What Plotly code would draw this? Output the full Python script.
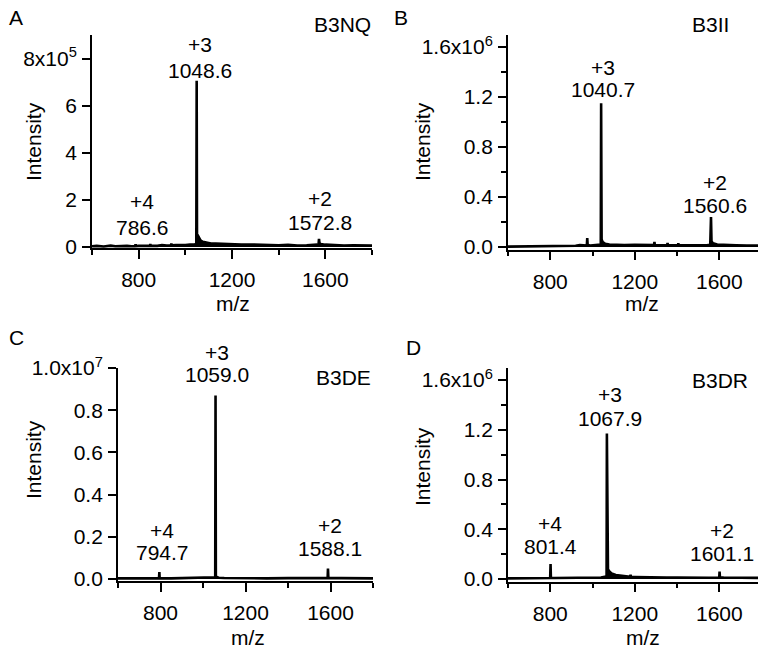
import plotly.graph_objects as go

W, H = 758, 650
FONT = "Liberation Sans, Arial, sans-serif"
FS = 21

# ---------------- data ----------------
# Panel A: B3NQ
mz_A = [600, 620, 650, 680, 700, 720, 750, 770, 785, 786.6, 788, 800, 820, 848, 850, 852, 880, 900,
        920, 938, 940, 942, 960, 980, 1000, 1020, 1040, 1047, 1048.6, 1050, 1053, 1058, 1065, 1075,
        1090, 1110, 1130, 1160, 1200, 1240, 1280, 1320, 1360, 1400, 1440, 1480, 1520, 1550, 1565,
        1571, 1572.8, 1575, 1580, 1600, 1640, 1680, 1720, 1760, 1800]
int_A = [3e3, 5e3, 2e3, 6e3, 3e3, 4e3, 5e3, 3e3, 4e3, 1.2e4, 4e3, 5e3, 4e3, 5e3, 1.3e4, 5e3, 5e3, 8e3,
         6e3, 7e3, 1.4e4, 7e3, 8e3, 7e3, 8e3, 1.0e4, 1.0e4, 1.5e4, 7.06e5, 5.5e4, 5.0e4, 4.0e4, 2.8e4, 2.2e4,
         1.8e4, 1.5e4, 1.5e4, 1.3e4, 1.2e4, 1.0e4, 1.1e4, 9e3, 8e3, 7e3, 9e3, 6e3, 7e3, 8e3, 1.0e4,
         1.2e4, 3.5e4, 1.6e4, 1.3e4, 1.0e4, 7e3, 6e3, 7e3, 5e3, 6e3]

# Panel B: B3II
mz_B = [600, 650, 700, 750, 800, 850, 900, 920, 940, 960, 973, 975, 977, 990, 1010, 1035, 1039,
        1040.7, 1043, 1048, 1060, 1080, 1110, 1150, 1200, 1250, 1291, 1293, 1295, 1320, 1353, 1355,
        1357, 1380, 1404, 1406, 1408, 1430, 1470, 1510, 1540, 1557, 1560.6, 1563, 1570, 1590, 1620,
        1680, 1730, 1783]
int_B = [3e3, 4e3, 3e3, 5e3, 4e3, 5e3, 1.2e4, 1.0e4, 1.5e4, 1.0e4, 1.2e4, 7.2e4, 1.5e4, 1.2e4, 1.5e4, 1.6e4, 2.0e4,
         1.15e6, 6.0e4, 4.0e4, 2.5e4, 2.0e4, 1.6e4, 1.5e4, 1.7e4, 1.5e4, 1.5e4, 4.0e4, 1.5e4, 1.4e4, 1.4e4, 3.2e4,
         1.4e4, 1.3e4, 1.3e4, 3.0e4, 1.3e4, 1.4e4, 1.3e4, 1.5e4, 1.4e4, 1.8e4, 2.4e5, 4.5e4, 3.0e4, 2.0e4, 1.6e4,
         1.4e4, 1.2e4, 1.2e4]

# Panel C: B3DE
mz_C = [600, 650, 700, 750, 793, 794.7, 796, 850, 900, 950, 1000, 1040, 1056, 1057.5, 1059.0, 1060.5,
        1064, 1075, 1100, 1150, 1200, 1300, 1400, 1500, 1560, 1586.5, 1588.1, 1590, 1650, 1700, 1750, 1800]
int_C = [3e4, 4e4, 3e4, 4e4, 4e4, 3.3e5, 4e4, 3e4, 4e4, 3e4, 4e4, 5e4, 8e4, 1.2e5, 8.7e6, 1.6e5,
         9e4, 6e4, 5e4, 4e4, 4e4, 3e4, 4e4, 3e4, 4e4, 4e4, 5.0e5, 4e4, 4e4, 3e4, 4e4, 3e4]

# Panel D: B3DR
mz_D = [600, 650, 700, 750, 780, 799.5, 801.4, 803, 820, 850, 900, 950, 1000, 1040, 1064, 1066.5,
        1067.9, 1069.5, 1073, 1080, 1090, 1110, 1140, 1165, 1178, 1180, 1182, 1200, 1250, 1300, 1350,
        1400, 1450, 1500, 1550, 1599.5, 1601.1, 1603, 1620, 1660, 1700, 1740, 1783]
int_D = [5e3, 6e3, 5e3, 7e3, 8e3, 8e3, 1.2e5, 9e3, 8e3, 9e3, 1.0e4, 1.2e4, 1.0e4, 1.2e4, 2.0e4, 3.0e4,
         1.17e6, 9.5e4, 8.0e4, 6.0e4, 4.5e4, 3.2e4, 2.4e4, 2.0e4, 1.8e4, 3.5e4, 1.7e4, 1.6e4, 1.3e4, 1.2e4, 1.1e4,
         1.2e4, 1.0e4, 1.1e4, 1.0e4, 1.2e4, 6.0e4, 1.4e4, 1.2e4, 1.0e4, 9e3, 1.0e4, 9e3]

names = ["B3NQ", "B3II", "B3DE", "B3DR"]
panel_letters = ["A", "B", "C", "D"]

ytick_vals_A = [0, 2e5, 4e5, 6e5, 8e5]
ytick_text_A = ["0", "2", "4", "6", "8x10<sup>5</sup>"]
ytick_vals_B = [0, 0.4e6, 0.8e6, 1.2e6, 1.6e6]
ytick_text_B = ["0.0", "0.4", "0.8", "1.2", "1.6x10<sup>6</sup>"]
ytick_vals_C = [0, 0.2e7, 0.4e7, 0.6e7, 0.8e7, 1.0e7]
ytick_text_C = ["0.0", "0.2", "0.4", "0.6", "0.8", "1.0x10<sup>7</sup>"]
ytick_vals_D = ytick_vals_B
ytick_text_D = ytick_text_B
xtick_vals = [800, 1200, 1600]
xtick_text = ["800", "1200", "1600"]

peak_labels_A = [("+4", "786.6"), ("+3", "1048.6"), ("+2", "1572.8")]
peak_labels_B = [("+3", "1040.7"), ("+2", "1560.6")]
peak_labels_C = [("+4", "794.7"), ("+3", "1059.0"), ("+2", "1588.1")]
peak_labels_D = [("+4", "801.4"), ("+3", "1067.9"), ("+2", "1601.1")]

# ---------------- layout helpers ----------------
def P(x, y):
    return x / W, 1 - y / H

panels = [
    dict(mz=mz_A, it=int_A, xd=(92, 372), yd=(248.2, 35), xr=[600, 1800], yr=[-5e3, 9e5],
         yv=ytick_vals_A, yt=ytick_text_A, yminor=None),
    dict(mz=mz_B, it=int_B, xd=(508, 758), yd=(249.5, 34.5), xr=[600, 1783], yr=[-2e4, 1.7e6],
         yv=ytick_vals_B, yt=ytick_text_B, yminor=0.2e6),
    dict(mz=mz_C, it=int_C, xd=(118, 373), yd=(581.1, 368), xr=[600, 1800], yr=[-1e5, 1.0e7],
         yv=ytick_vals_C, yt=ytick_text_C, yminor=None),
    dict(mz=mz_D, it=int_D, xd=(508, 758), yd=(581.5, 367.6), xr=[600, 1783], yr=[-2e4, 1.7e6],
         yv=ytick_vals_D, yt=ytick_text_D, yminor=0.2e6),
]

fig = go.Figure()
layout = dict(
    width=W, height=H, margin=dict(l=0, r=0, t=0, b=0, pad=0, autoexpand=False),
    paper_bgcolor="white", plot_bgcolor="white", showlegend=False,
    font=dict(family=FONT, size=FS, color="black"),
)

for i, p in enumerate(panels):
    n = "" if i == 0 else str(i + 1)
    fig.add_trace(go.Scatter(
        x=p["mz"], y=p["it"], mode="lines", fill="tozeroy",
        fillcolor="black", line=dict(color="black", width=2.6),
        xaxis="x" + n, yaxis="y" + n, hoverinfo="skip"))
    xd = [p["xd"][0] / W, p["xd"][1] / W]
    yd = [1 - p["yd"][0] / H, 1 - p["yd"][1] / H]
    layout["xaxis" + n] = dict(
        domain=xd, range=p["xr"], anchor="y" + n, automargin=False,
        showline=True, linecolor="black", linewidth=1.8,
        showgrid=False, zeroline=False,
        ticks="outside", ticklen=9, tickwidth=1.6, tickcolor="black",
        tickmode="array", tickvals=xtick_vals, ticktext=xtick_text,
        tickfont=dict(size=FS, family=FONT, color="black"),
        ticklabelstandoff=3,
        minor=dict(ticks="outside", ticklen=5, tickwidth=1.6, tickcolor="black",
                   tickmode="array", tickvals=[600, 1000, 1400, 1800]),
    )
    ya = dict(
        domain=yd, range=p["yr"], anchor="x" + n, automargin=False,
        showline=True, linecolor="black", linewidth=1.8,
        showgrid=False, zeroline=False,
        ticks="outside", ticklen=8, tickwidth=1.6, tickcolor="black",
        tickmode="array", tickvals=p["yv"], ticktext=p["yt"],
        tickfont=dict(size=FS, family=FONT, color="black"),
        ticklabelstandoff=1,
    )
    if p["yminor"]:
        ya["minor"] = dict(ticks="outside", ticklen=5, tickwidth=1.6, tickcolor="black",
                           dtick=p["yminor"], tick0=0)
    layout["yaxis" + n] = ya

fig.update_layout(**layout)

ann = []
def text(x, y, s, xanchor="center", size=FS, angle=0):
    px, py = P(x, y)
    ann.append(dict(x=px, y=py, xref="paper", yref="paper", text=s, showarrow=False,
                    xanchor=xanchor, yanchor="middle", textangle=angle,
                    font=dict(size=size, family=FONT, color="black")))

# panel letters
text(16, 17, "A"); text(401, 18, "B"); text(16, 337, "C"); text(413, 347, "D")
# sample names
text(373, 25, names[0], xanchor="right")
text(710, 25, names[1])
text(373, 377, names[2], xanchor="right")
text(720, 380, names[3])
# axis titles
text(33, 142, "Intensity", angle=-90)
text(422, 142, "Intensity", angle=-90)
text(33, 460, "Intensity", angle=-90)
text(422, 467, "Intensity", angle=-90)
text(233, 303, "m/z"); text(642, 303, "m/z")
text(248, 637, "m/z"); text(643, 637, "m/z")

# peak labels (charge, m/z)
pos_A = [(142, 202, 228), (200, 45, 70), (320, 198, 222)]
pos_B = [(603, 67, 90), (715, 182, 205)]
pos_C = [(162, 530, 552), (217, 352, 375), (330, 525, 548)]
pos_D = [(550, 523, 546), (610, 394, 418), (722, 530, 553)]
for labels, pos in [(peak_labels_A, pos_A), (peak_labels_B, pos_B),
                    (peak_labels_C, pos_C), (peak_labels_D, pos_D)]:
    for (z, m), (x, y1, y2) in zip(labels, pos):
        text(x, y1, z)
        text(x, y2, m)

fig.update_layout(annotations=ann)
fig.write_html("out.html", config={"displayModeBar": False},
               post_script="document.body.style.margin='0';document.body.style.overflow='hidden';")
